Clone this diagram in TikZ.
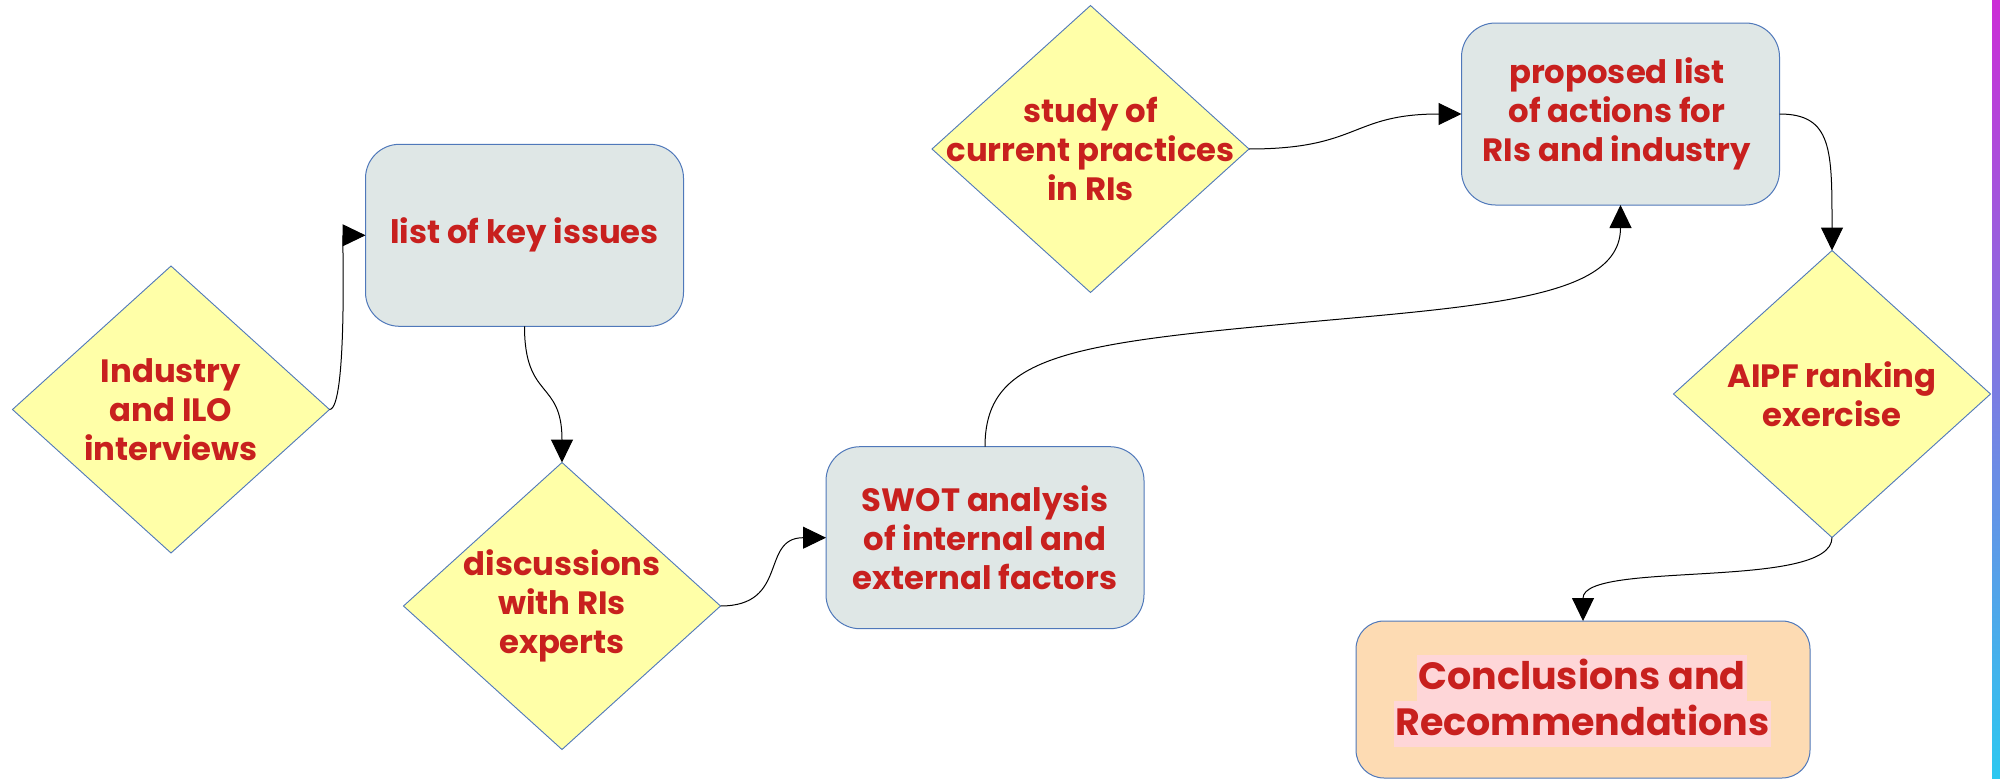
\documentclass[tikz,border=0pt]{standalone}
\usepackage{fontspec}
\setmainfont{Poppins}
\usetikzlibrary{shapes.geometric,arrows.meta}
\definecolor{txtred}{RGB}{200,32,30}
\definecolor{boxfill}{RGB}{223,231,230}
\definecolor{edgeblue}{RGB}{79,120,186}
\definecolor{diafill}{RGB}{255,255,168}
\definecolor{concfill}{RGB}{253,219,179}
\definecolor{hlpink}{RGB}{254,214,216}
\definecolor{bartop}{RGB}{204,44,214}
\definecolor{barbot}{RGB}{44,200,240}
\tikzset{
  lbl/.style={text=txtred, font=\bfseries\fontsize{32.3}{39}\selectfont, align=center, inner sep=0pt},
  box/.style={draw=edgeblue, line width=1pt, fill=boxfill, rounded corners=34pt,
    minimum width=318pt, minimum height=182pt, inner sep=0pt, outer sep=0pt, lbl},
  dia/.style={diamond, draw=edgeblue, line width=0.9pt, fill=diafill,
    minimum width=317pt, minimum height=287pt, inner sep=0pt, outer sep=0pt},
  conn/.style={draw=black, line width=1pt, -{Triangle[length=23pt,width=22pt]}},
  hl/.style={fill=hlpink, text=txtred, font=\bfseries\fontsize{38}{46}\selectfont,
    inner xsep=1pt, inner ysep=0pt, text height=34pt, text depth=12pt}
}
\begin{document}
\begin{tikzpicture}[x=1pt,y=-1pt]
\useasboundingbox (0,0) rectangle (2000,779);
\fill[white] (0,0) rectangle (2000,779);
\shade[top color=bartop, bottom color=barbot, middle color={rgb,255:red,124;green,124;blue,226}] (1992,0) rectangle (2000,779);

% diamonds
\node[dia] (d1) at (171,409.5) {};
\node[lbl] (t1) at (d1.center) {Industry\\and ILO\\interviews};
\node[dia] (d2) at (562,606) {};
\node[lbl] (t2) at (d2.center) {discussions\\with RIs\\experts};
\node[dia] (d3) at (1090.5,149) {};
\node[lbl] (t3) at (d3.center) {study of\\current practices\\in RIs};
\node[dia] (d4) at (1832,394) {};
\node[lbl] (t4) at (d4.center) {AIPF ranking\\exercise};

% boxes
\node[box] (b1) at (524.5,235.3) {list of key issues};
\node[box] (b3) at (985,537.7) {SWOT analysis\\of internal and\\external factors};
\node[box] (b4) at (1620.5,114) {};
\node[lbl] (t5) at (1617,114) {proposed list\\of actions for\\RIs and industry};
\node[box, fill=concfill, minimum width=454pt, minimum height=157pt, rounded corners=28pt] (b5) at (1583,699.5) {};
\node[hl] (c1) at (1582,678) {Conclusions and};
\node[hl] (c2) at (1582.5,724) {Recommendations};

% connectors
\coordinate (m4) at (1275,325);
\draw[conn] (d1.east) .. controls +(18,0) and +(-23,0) .. (b1.west);
\draw[conn] (b1.south) .. controls +(0,74) and +(0,-83) .. (d2.north);
\draw[conn] (d2.east) .. controls +(69,0) and +(-66,0) .. (b3.west);
\draw[conn] (b3.north) .. controls +(0,-87) and (1060,345) .. (m4) .. controls (1480,306) and +(0,95) .. (b4.south);
\draw[conn] (d3.east) .. controls +(111,0) and +(-111,0) .. (b4.west);
\draw[conn] (b4.east) .. controls +(53,0) and +(0,-100) .. (d4.north);
\draw[conn] (d4.south) .. controls +(0,53) and +(0,-61) .. (b5.north);
\end{tikzpicture}
\end{document}
